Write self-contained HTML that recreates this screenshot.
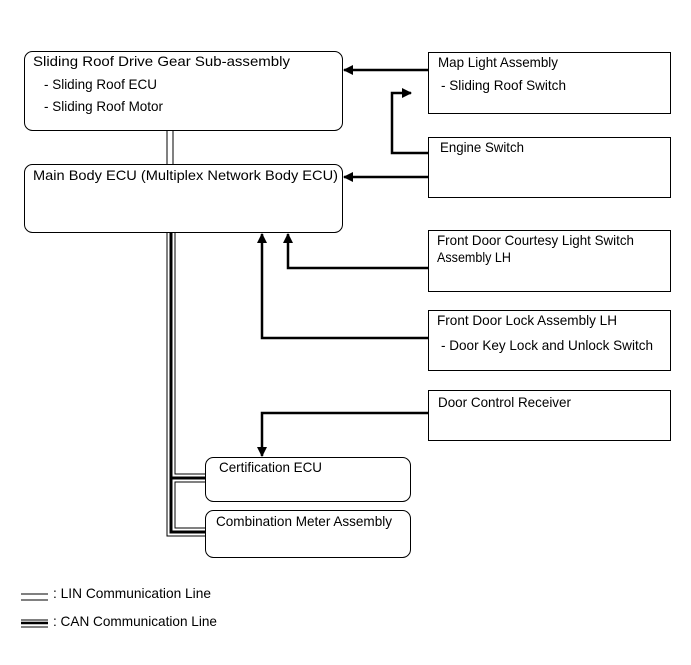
<!DOCTYPE html>
<html><head><style>
body{margin:0;background:#fff;}
svg text{font-family:"Liberation Sans",sans-serif;font-size:13.8px;fill:#000;}
</style></head><body>
<svg width="691" height="660" viewBox="0 0 691 660" xmlns="http://www.w3.org/2000/svg">
<defs><marker id="a" markerWidth="10" markerHeight="10" refX="9" refY="5" orient="auto" markerUnits="userSpaceOnUse"><path d="M0,0 L10,5 L0,10 z" fill="#000"/></marker></defs>
<g fill="none" stroke="#000" stroke-width="1">
<rect x="24.5" y="51.5" width="318" height="79" rx="8"/>
<rect x="24.5" y="164.5" width="318" height="68" rx="8"/>
<rect x="428.5" y="52.5" width="242" height="61"/>
<rect x="428.5" y="137.5" width="242" height="60"/>
<rect x="428.5" y="230.5" width="242" height="61"/>
<rect x="428.5" y="310.5" width="242" height="60"/>
<rect x="428.5" y="390.5" width="242" height="50"/>
<rect x="205.5" y="457.5" width="205" height="44" rx="8"/>
<rect x="205.5" y="510.5" width="205" height="47" rx="8"/>
</g>
<line x1="167" y1="131" x2="167" y2="164" stroke="#000"/>
<line x1="173" y1="131" x2="173" y2="164" stroke="#000"/>
<g fill="none">
<path d="M171,233 V478 H205" stroke="#000" stroke-width="9"/>
<path d="M171,233 V532 H205" stroke="#000" stroke-width="9"/>
<path d="M171,233 V478 H205" stroke="#fff" stroke-width="7"/>
<path d="M171,233 V532 H205" stroke="#fff" stroke-width="7"/>
<path d="M171,233 V478 H205" stroke="#000" stroke-width="3"/>
<path d="M171,233 V532 H205" stroke="#000" stroke-width="3"/>
</g>
<g fill="none" stroke="#000" stroke-width="2.5">
<line x1="428" y1="70" x2="344" y2="70" marker-end="url(#a)"/>
<line x1="428" y1="177" x2="344" y2="177" marker-end="url(#a)"/>
<path d="M428,153 H392 V93 H411" marker-end="url(#a)"/>
<path d="M428,268 H288 V234" marker-end="url(#a)"/>
<path d="M428,338 H262 V234" marker-end="url(#a)"/>
<path d="M428,413 H262 V456" marker-end="url(#a)"/>
</g>
<text x="33" y="66" textLength="257" lengthAdjust="spacingAndGlyphs">Sliding Roof Drive Gear Sub-assembly</text>
<text x="44" y="89" textLength="113" lengthAdjust="spacingAndGlyphs">- Sliding Roof ECU</text>
<text x="44" y="111" textLength="119" lengthAdjust="spacingAndGlyphs">- Sliding Roof Motor</text>
<text x="33" y="180" textLength="305" lengthAdjust="spacingAndGlyphs">Main Body ECU (Multiplex Network Body ECU)</text>
<text x="438" y="67" textLength="120" lengthAdjust="spacingAndGlyphs">Map Light Assembly</text>
<text x="441" y="90" textLength="125" lengthAdjust="spacingAndGlyphs">- Sliding Roof Switch</text>
<text x="440" y="152" textLength="84" lengthAdjust="spacingAndGlyphs">Engine Switch</text>
<text x="437" y="245" textLength="197" lengthAdjust="spacingAndGlyphs">Front Door Courtesy Light Switch</text>
<text x="437" y="262" textLength="74" lengthAdjust="spacingAndGlyphs">Assembly LH</text>
<text x="437" y="325" textLength="180" lengthAdjust="spacingAndGlyphs">Front Door Lock Assembly LH</text>
<text x="441" y="350" textLength="212" lengthAdjust="spacingAndGlyphs">- Door Key Lock and Unlock Switch</text>
<text x="438" y="407" textLength="133" lengthAdjust="spacingAndGlyphs">Door Control Receiver</text>
<text x="219" y="472" textLength="103" lengthAdjust="spacingAndGlyphs">Certification ECU</text>
<text x="216" y="526" textLength="176" lengthAdjust="spacingAndGlyphs">Combination Meter Assembly</text>
<text x="53" y="598" textLength="158" lengthAdjust="spacingAndGlyphs">: LIN Communication Line</text>
<text x="53" y="626" textLength="164" lengthAdjust="spacingAndGlyphs">: CAN Communication Line</text>
<g stroke="#000">
<line x1="21" y1="594" x2="48" y2="594"/>
<line x1="21" y1="600" x2="48" y2="600"/>
<line x1="21" y1="620" x2="48" y2="620"/>
<line x1="21" y1="623" x2="48" y2="623" stroke-width="2.5"/>
<line x1="21" y1="627" x2="48" y2="627"/>
</g>
</svg>
</body></html>
